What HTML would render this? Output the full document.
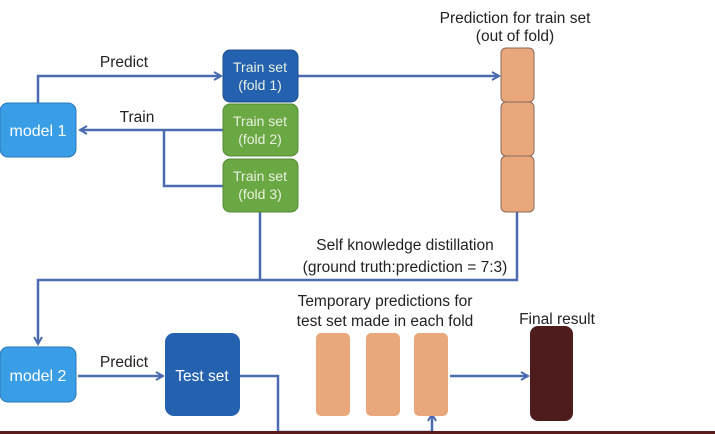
<!DOCTYPE html>
<html><head><style>html,body{margin:0;padding:0;background:#fff}svg{display:block}text{font-family:"Liberation Sans",sans-serif}</style></head>
<body>
<svg width="715" height="434" viewBox="0 0 715 434" xmlns="http://www.w3.org/2000/svg">
<defs><marker id="a" markerWidth="10" markerHeight="10" refX="8" refY="5" orient="auto" markerUnits="userSpaceOnUse"><path d="M1,1 L8,5 L1,9" fill="none" stroke="#4a6bb0" stroke-width="2"/></marker></defs>
<g stroke="#4a6bb0" stroke-width="2.5" fill="none">
<path d="M38,103 V76 H221" marker-end="url(#a)"/>
<path d="M223,130 H80" marker-end="url(#a)"/>
<path d="M223,186 H164 V130"/>
<path d="M298,76 H499" marker-end="url(#a)"/>
<path d="M260,212 V280"/>
<path d="M517,212 V280 H38 V344" marker-end="url(#a)"/>
<path d="M78,376 H163" marker-end="url(#a)"/>
<path d="M240,376 H278 V432 H432 V414" marker-end="url(#a)"/>
<path d="M450,376 H528" marker-end="url(#a)"/>
</g>
<rect x="0" y="103" width="76" height="54" rx="8" fill="#3a9ee6" stroke="#2a78b8"/>
<text x="38" y="136" font-size="16" fill="#fff" text-anchor="middle">model 1</text>
<rect x="223" y="50" width="75" height="52" rx="7" fill="#2462b0" stroke="#1c4f90"/>
<rect x="223" y="104" width="75" height="52" rx="7" fill="#6aa843" stroke="#558a34"/>
<rect x="223" y="159" width="75" height="53" rx="7" fill="#6aa843" stroke="#558a34"/>
<g font-size="14" fill="#e8f0e0" text-anchor="middle">
<text x="260" y="72">Train set</text><text x="260" y="90">(fold 1)</text>
<text x="260" y="126">Train set</text><text x="260" y="144">(fold 2)</text>
<text x="260" y="181">Train set</text><text x="260" y="199">(fold 3)</text>
</g>
<g fill="#e9a87c" stroke="#8a6a5a">
<rect x="501" y="48" width="33" height="54" rx="5"/>
<rect x="501" y="102" width="33" height="54" rx="5"/>
<rect x="501" y="156" width="33" height="56" rx="5"/>
<rect x="316" y="333" width="34" height="83" rx="5" stroke="none"/>
<rect x="366" y="333" width="34" height="83" rx="5" stroke="none"/>
<rect x="414" y="333" width="34" height="83" rx="5" stroke="none"/>
</g>
<rect x="530" y="326" width="43" height="95" rx="8" fill="#4e1c1c"/>
<rect x="0" y="347" width="76" height="55" rx="8" fill="#3a9ee6" stroke="#2a78b8"/>
<text x="38" y="381" font-size="16" fill="#fff" text-anchor="middle">model 2</text>
<rect x="165" y="333" width="75" height="83" rx="9" fill="#2462b0"/>
<text x="202" y="381" font-size="15.5" fill="#fff" text-anchor="middle">Test set</text>
<g font-size="15.5" fill="#222" text-anchor="middle">
<text x="124" y="67">Predict</text>
<text x="137" y="122">Train</text>
<text x="124" y="367">Predict</text>
<text x="515" y="23">Prediction for train set</text>
<text x="515" y="41">(out of fold)</text>
<text x="405" y="250">Self knowledge distillation</text>
<text x="405" y="272">(ground truth:prediction = 7:3)</text>
<text x="385" y="306">Temporary predictions for</text>
<text x="385" y="326">test set made in each fold</text>
<text x="557" y="324">Final result</text>
</g>
<rect x="0" y="431" width="715" height="3" fill="#5a1a1a"/>
</svg>
</body></html>
